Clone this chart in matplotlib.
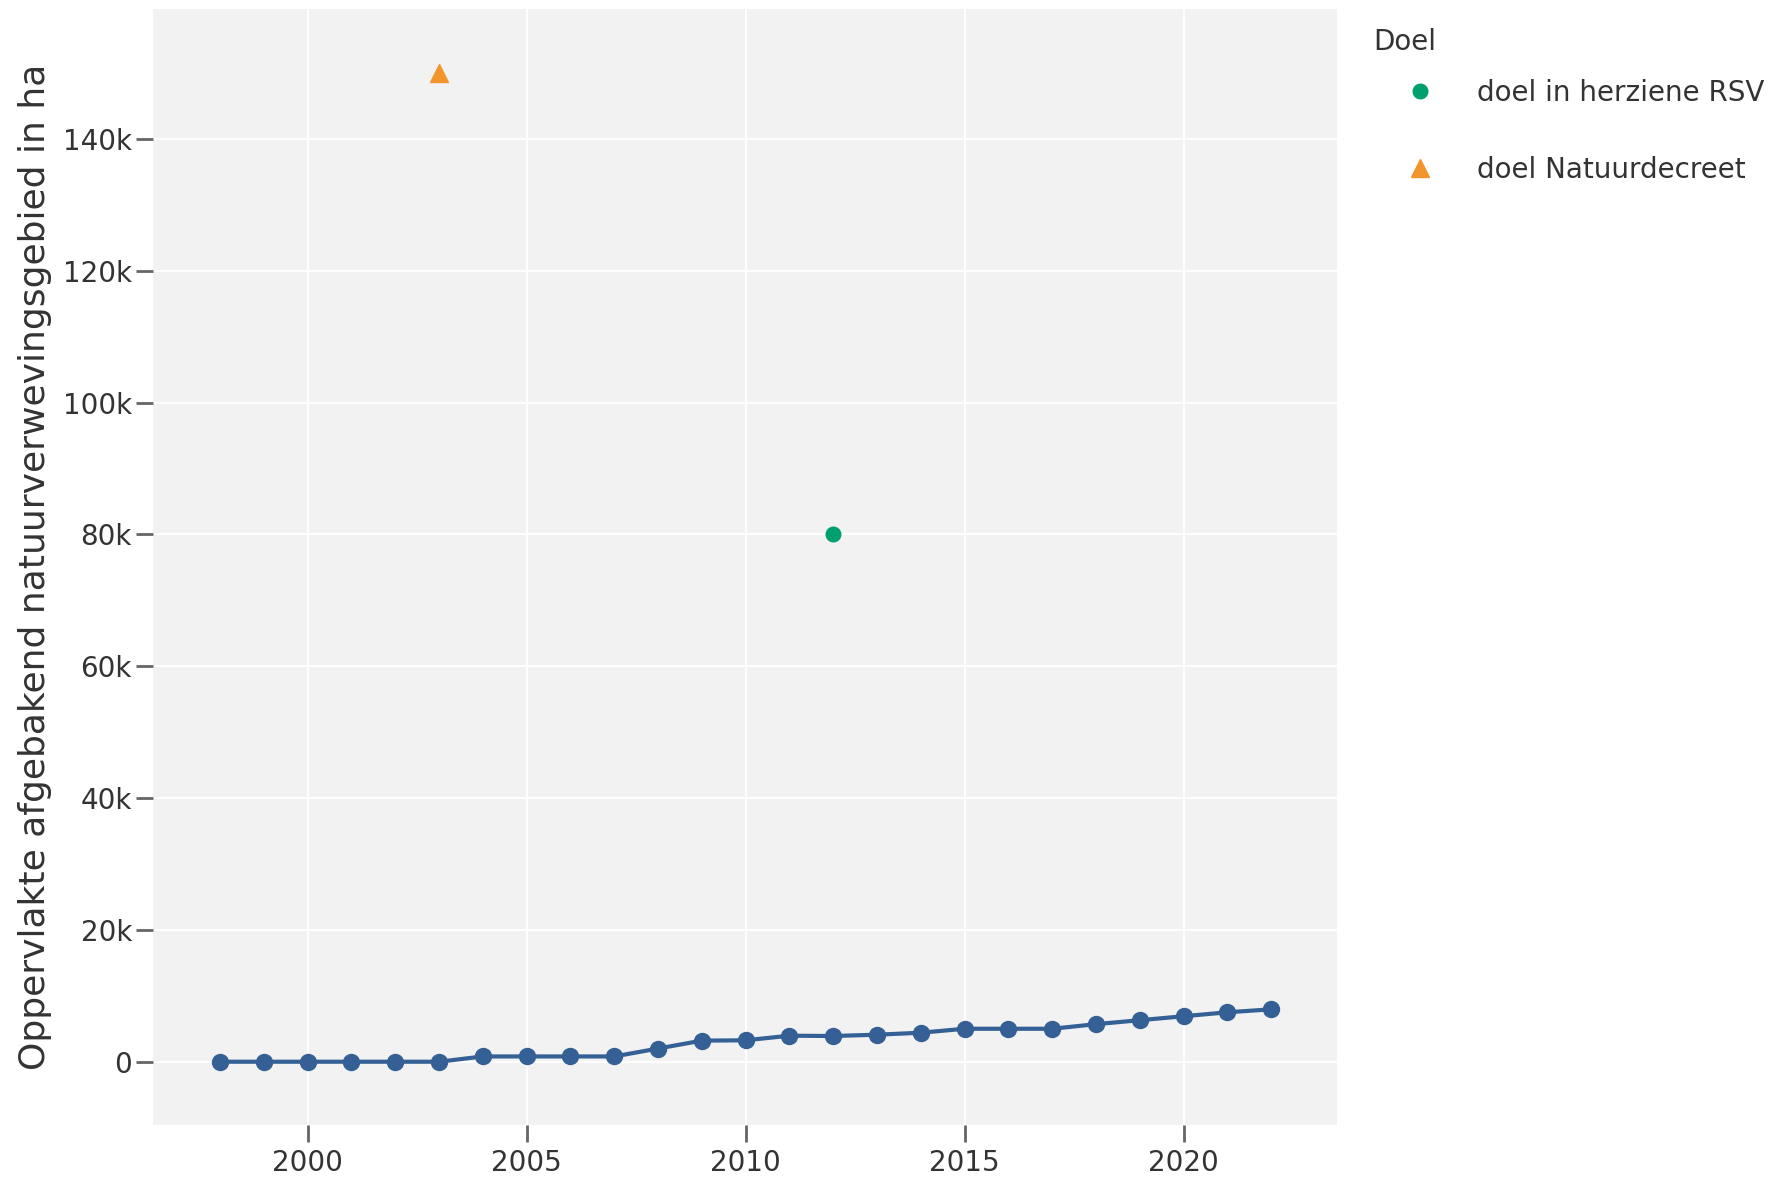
import matplotlib
matplotlib.use("Agg")
from matplotlib import pyplot as plt
from matplotlib.ticker import FuncFormatter

# afgebakend natuurverwevingsgebied (ha) per jaar
years = [1998, 1999, 2000, 2001, 2002, 2003, 2004, 2005, 2006, 2007, 2008, 2009,
         2010, 2011, 2012, 2013, 2014, 2015, 2016, 2017, 2018, 2019, 2020, 2021, 2022]
area_ha = [0, 0, 0, 0, 0, 0, 800, 800, 800, 800, 2000, 3200,
           3250, 3950, 3900, 4100, 4400, 5000, 5000, 5000, 5700, 6300, 6900, 7500, 7950]

# doelen
rsv_year = [2012]
rsv_value = [80000]
decreet_year = [2003]
decreet_value = [150000]

y_ticks = [0, 20000, 40000, 60000, 80000, 100000, 120000, 140000]
x_ticks = [2000, 2005, 2010, 2015, 2020]

W, H = 1780, 1182
fig = plt.figure(figsize=(W / 100, H / 100), dpi=100)
ax = fig.add_axes([153 / W, 1 - 1125 / H, (1337 - 153) / W, (1125 - 9) / H])
ax.set_facecolor("#f2f2f2")

ax.plot(years, area_ha, color="#356096", lw=3, marker="o", ms=11.5, zorder=3)
ax.plot(rsv_year, rsv_value, ls="none", marker="o", ms=10.5, color="#00a06e",
        label="doel in herziene RSV", zorder=3)
ax.plot(decreet_year, decreet_value, ls="none", marker="^", ms=12.5, color="#f2962b",
        label="doel Natuurdecreet", zorder=3)

ax.set_xlim(1996.47, 2023.5)
ax.set_ylim(-9600, 159700)
ax.set_xticks(x_ticks)
ax.set_yticks(y_ticks)
ax.yaxis.set_major_formatter(FuncFormatter(lambda v, p: "0" if v == 0 else f"{int(v / 1000)}k"))
ax.grid(color="white", lw=1.4)
ax.set_axisbelow(True)
for s in ax.spines.values():
    s.set_visible(False)
ax.tick_params(axis="both", length=12.2, width=2, color="#666666", labelsize=20,
               labelcolor="#333333")
ax.tick_params(axis="x", pad=5)
ax.tick_params(axis="y", pad=3)

ax.set_ylabel("Oppervlakte afgebakend natuurverwevingsgebied in ha", fontsize=26,
              color="#333333")
ax.yaxis.set_label_coords(-0.085, 0.5)

fig.text(1373 / W, 1 - 42 / H, "Doel", fontsize=20, color="#333333", va="center")
leg = fig.legend(loc="upper left", bbox_to_anchor=(1406 / W, 1 - 79 / H), frameon=False,
                 fontsize=20, labelspacing=1.75, handlelength=1.0, handletextpad=1.55,
                 borderpad=0, borderaxespad=0)
for t in leg.get_texts():
    t.set_color("#333333")

fig.savefig("out.png", dpi=100)
